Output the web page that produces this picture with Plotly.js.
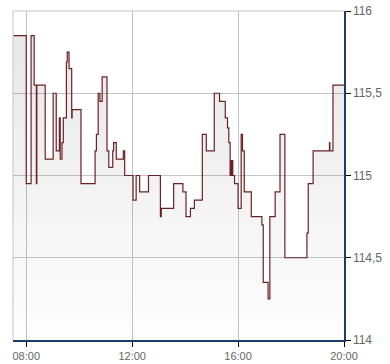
<!DOCTYPE html>
<html>
<head>
<meta charset="utf-8">
<script src="https://cdn.plot.ly/plotly-3.0.1.min.js"></script>
<style>html,body{margin:0;padding:0;background:#fff}#chart{width:390px;height:364px}</style>
</head>
<body>
<div id="chart"></div>
<script>
var day = '2024-01-15 ';
var times = ['07:30','08:00','08:11','08:18','08:23','08:24','08:43','09:01','09:08','09:15','09:17','09:21','09:24','09:31','09:33','09:37','09:43','09:44','10:04','10:36','10:39','10:43','10:47','10:52','11:03','11:07','11:16','11:18','11:24','11:40','11:43','12:02','12:09','12:17','12:37','13:04','13:06','13:34','13:55','14:02','14:12','14:21','14:39','14:48','15:06','15:18','15:31','15:36','15:39','15:42','15:44','15:45','15:47','15:48','15:52','16:00','16:07','16:10','16:14','16:30','16:54','16:57','17:08','17:12','17:24','17:35','17:46','18:36','18:39','18:50','19:27','19:28','19:35','20:00'];
var prices = [115.85,114.95,115.85,115.55,114.95,115.55,115.10,115.50,115.15,115.35,115.10,115.20,115.35,115.69,115.75,115.65,115.35,115.40,114.95,115.15,115.25,115.50,115.45,115.60,115.15,115.05,115.15,115.20,115.10,115.15,115.00,114.85,115.00,114.90,115.00,114.75,114.80,114.95,114.90,114.75,114.80,114.85,115.25,115.15,115.50,115.45,115.35,115.29,115.20,115.00,115.09,115.00,115.09,115.00,114.95,114.80,115.25,115.15,114.90,114.75,114.70,114.35,114.25,114.75,114.90,115.25,114.50,114.65,114.95,115.15,115.20,115.15,115.55,115.55];
var yTicks = [114, 114.5, 115, 115.5, 116];
var xTicks = ['08:00','12:00','16:00','20:00'];

var x = times.map(function(t){return day + t;});

var trace = {
  x: x, y: prices, type: 'scatter', mode: 'lines',
  line: {shape: 'hv', color: '#6b2226', width: 1.2},
  fill: 'tozeroy',
  fillgradient: {type: 'vertical', start: 114, stop: 116,
    colorscale: [[0, 'rgba(0,0,0,0.005)'], [1, 'rgba(0,0,0,0.1)']]},
  hoverinfo: 'skip'
};

var layout = {
  width: 390, height: 364,
  margin: {l: 13, r: 46, t: 11, b: 24},
  paper_bgcolor: '#ffffff', plot_bgcolor: '#ffffff',
  separators: ', ',
  showlegend: false,
  font: {family: 'Liberation Sans, Arial, sans-serif', size: 11, color: '#666666'},
  xaxis: {
    type: 'date',
    range: [day + '07:30', day + '20:00'],
    tickvals: xTicks.map(function(t){return day + t;}),
    ticktext: xTicks,
    showgrid: true, gridcolor: '#c4c4c4', gridwidth: 1,
    showline: true, linecolor: '#1f3b6b', linewidth: 1.5,
    ticks: 'outside', ticklen: 5, tickcolor: '#000000', tickwidth: 1,
    zeroline: false, fixedrange: true
  },
  yaxis: {
    side: 'right',
    range: [114, 116],
    tickvals: yTicks,
    showgrid: true, gridcolor: '#c4c4c4', gridwidth: 1,
    showline: true, linecolor: '#1f3b6b', linewidth: 1.5,
    ticks: 'outside', ticklen: 5, tickcolor: '#000000', tickwidth: 1,
    tickfont: {size: 12},
    zeroline: false, fixedrange: true
  },
  shapes: [
    {type: 'line', xref: 'paper', yref: 'paper', x0: 0, x1: 0, y0: 0, y1: 1, line: {color: '#c4c4c4', width: 1}},
    {type: 'line', xref: 'paper', yref: 'paper', x0: 0, x1: 1, y0: 1, y1: 1, line: {color: '#c4c4c4', width: 1}}
  ]
};

Plotly.newPlot('chart', [trace], layout, {displayModeBar: false, staticPlot: true});
</script>
</body>
</html>
